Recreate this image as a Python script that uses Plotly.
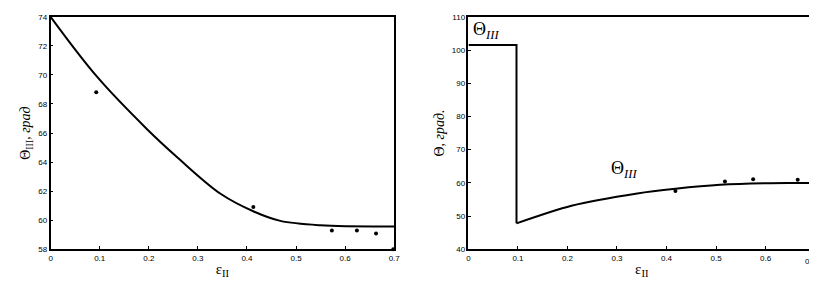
import plotly.graph_objects as go

# Left panel: theta_III vs eps_II
left_curve_x = [0, 0.095, 0.196, 0.259, 0.347, 0.415, 0.468, 0.549, 0.7]
left_curve_y = [74, 69.86, 66.28, 64.3, 61.8, 60.58, 59.95, 59.65, 59.57]
left_dots_x = [0.093, 0.413, 0.573, 0.624, 0.663, 0.698]
left_dots_y = [68.8, 60.9, 59.28, 59.28, 59.08, 58.0]

# Right panel
right_step_x = [0, 0.097, 0.097]
right_step_y = [101.5, 101.5, 47.8]
right_curve_x = [0.097, 0.208, 0.341, 0.418, 0.508, 0.609, 0.70]
right_curve_y = [47.8, 53.1, 56.8, 58.2, 59.4, 59.9, 59.9]
right_dots_x = [0.418, 0.518, 0.575, 0.665, 0.697]
right_dots_y = [57.5, 60.4, 61.1, 60.9, 61.9]

left_yticks = [58, 60, 62, 64, 66, 68, 70, 72, 74]
right_yticks = [40, 50, 60, 70, 80, 90, 100, 110]
xticks = [0, 0.1, 0.2, 0.3, 0.4, 0.5, 0.6, 0.7]
right_xticks = xticks[:-1]

fig = go.Figure()
fig.add_trace(go.Scatter(x=left_curve_x, y=left_curve_y, mode="lines",
                         line=dict(color="black", width=2, shape="spline", smoothing=1), xaxis="x", yaxis="y"))
fig.add_trace(go.Scatter(x=left_dots_x, y=left_dots_y, mode="markers", marker=dict(color="black", size=4),
                         cliponaxis=False, xaxis="x", yaxis="y"))
fig.add_trace(go.Scatter(x=right_step_x, y=right_step_y, mode="lines", line=dict(color="black", width=2),
                         xaxis="x2", yaxis="y2"))
fig.add_trace(go.Scatter(x=right_curve_x, y=right_curve_y, mode="lines",
                         line=dict(color="black", width=2, shape="spline", smoothing=0.8), xaxis="x2", yaxis="y2"))
fig.add_trace(go.Scatter(x=right_dots_x, y=right_dots_y, mode="markers", marker=dict(color="black", size=4),
                         cliponaxis=False, xaxis="x2", yaxis="y2"))

tickfont = dict(family="Liberation Sans", size=8, color="black")
common = dict(showline=True, linecolor="black", linewidth=1.5, mirror=True, ticks="inside", ticklen=3,
              tickcolor="black", showgrid=False, zeroline=False, tickfont=tickfont)
titlefont = dict(family="Liberation Serif", size=14, color="black")

fig.update_layout(
    width=817, height=283, margin=dict(l=0, r=0, t=0, b=0),
    paper_bgcolor="white", plot_bgcolor="white", showlegend=False,
    xaxis=dict(domain=[41/817, 388/817], range=[0, 0.7], tickvals=xticks, ticktext=[str(v) for v in xticks],
               anchor="y", title=dict(text="ε<sub>II</sub>", font=dict(family="Liberation Serif", size=15, color="black"), standoff=2), **common),
    yaxis=dict(domain=[1-245/283, 1-5/283], range=[58, 74], tickvals=left_yticks, anchor="x",
               title=dict(text="Θ<sub>III</sub>, <i>град</i>", font=titlefont, standoff=4), **common),
    xaxis2=dict(domain=[463/817, 813/817], range=[0, 0.7], tickvals=right_xticks, ticktext=[str(v) for v in right_xticks],
                anchor="y2", title=dict(text="ε<sub>II</sub>", font=dict(family="Liberation Serif", size=15, color="black"), standoff=2), **common),
    yaxis2=dict(domain=[1-245/283, 1-5/283], range=[40, 110], tickvals=right_yticks, anchor="x2",
                title=dict(text="Θ, <i>град.</i>", font=titlefont, standoff=4), **common),
    annotations=[
        dict(x=0.005, y=106, xref="x2", yref="y2", text="Θ<sub><i>III</i></sub>", showarrow=False, xanchor="left",
             font=dict(family="Liberation Serif", size=18, color="black")),
        dict(x=0.315, y=64, xref="x2", yref="y2", text="Θ<sub><i>III</i></sub>", showarrow=False,
             font=dict(family="Liberation Serif", size=18, color="black")),
        dict(x=1.0, y=1-258/283, xref="paper", yref="paper", text=str(xticks[-1]), showarrow=False,
             xanchor="right", yanchor="middle", font=tickfont),
    ],
)

fig.write_html("out.html")
